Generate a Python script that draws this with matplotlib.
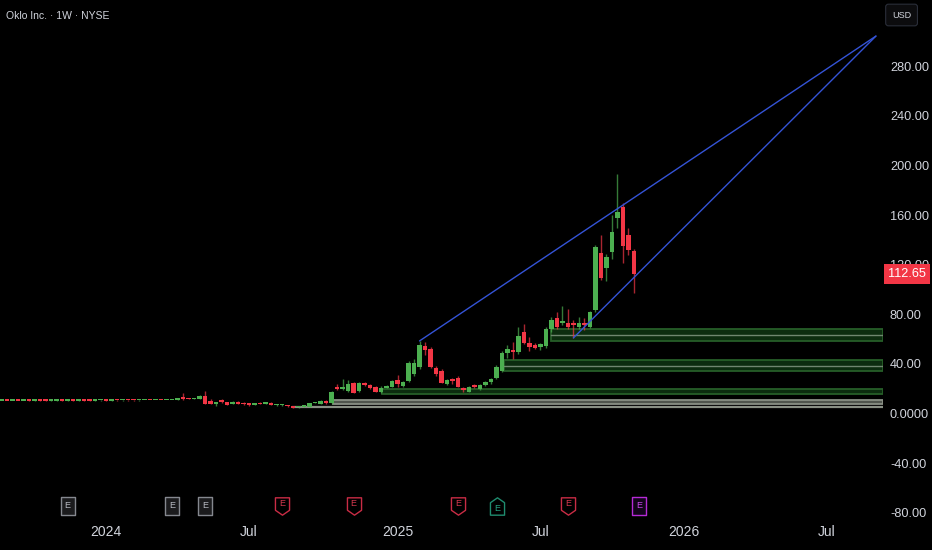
import matplotlib
matplotlib.use('Agg')
import matplotlib.pyplot as plt
import matplotlib.dates as mdates
from matplotlib.path import Path
from matplotlib.markers import MarkerStyle
from matplotlib.patches import Rectangle
import pandas as pd

plt.rcParams['font.family'] = ['Liberation Sans Narrow', 'Liberation Sans', 'DejaVu Sans']

# weekly candles, first week 2023-08-21 (AltC before the merger) up to 2025-11-03
first_week = '2023-08-21'
opens = [10.30, 10.36, 10.33, 10.38, 10.35, 10.40, 10.37, 10.42, 10.39, 10.35, 10.41, 10.44,
         10.40, 10.46, 10.43, 10.48, 10.45, 10.42, 10.47, 10.50, 10.46, 10.52, 10.49, 10.54,
         10.51, 10.48, 10.55, 10.58, 10.54, 10.60, 10.57, 10.62,
         10.8, 13.0, 12.4, 11.6, 11.8, 14.4, 9.8, 7.8, 10.6, 9.3, 7.8, 9.5,
         8.7, 8.2, 6.9, 8.7, 7.6, 8.7, 6.7, 6.7, 6.6, 6.0, 4.9, 5.2,
         5.5, 8.4, 7.7, 10.3, 8.2, 21.0, 19.6, 18.4, 24.6, 18.4, 24.8, 23.0,
         21.6, 17.0, 20.8, 21.6, 27.0, 22.2, 26.5, 31.6, 37.8, 54.4, 52.0, 36.4,
         34.5, 23.8, 27.5, 28.3, 20.8, 17.6, 23.0, 20.0, 23.0, 25.0, 29.0, 34.5,
         48.5, 51.0, 49.8, 66.0, 57.0, 55.0, 53.3, 54.4, 68.0, 76.8, 72.7, 73.0,
         73.0, 70.0, 73.0, 70.0, 83.5, 129.6, 117.0, 130.5, 157.4, 166.8, 144.0, 131.2]
highs = [10.42, 10.44, 10.43, 10.46, 10.45, 10.48, 10.47, 10.50, 10.48, 10.47, 10.51, 10.53,
         10.50, 10.55, 10.52, 10.57, 10.54, 10.52, 10.57, 10.59, 10.56, 10.61, 10.59, 10.63,
         10.60, 10.62, 10.66, 10.67, 10.68, 10.69, 10.71, 10.95,
         12.6, 16.3, 12.8, 12.6, 14.8, 18.0, 11.6, 9.4, 12.0, 9.6, 10.2, 9.8,
         9.0, 8.5, 8.5, 9.0, 9.6, 9.0, 7.6, 7.5, 6.9, 6.4, 5.6, 6.8,
         8.4, 9.4, 10.6, 10.9, 18.0, 23.5, 27.6, 27.0, 25.2, 25.5, 25.6, 24.0,
         22.5, 21.8, 22.8, 27.0, 31.0, 25.8, 42.5, 44.0, 58.5, 58.0, 53.5, 38.5,
         35.5, 27.5, 29.0, 30.5, 21.5, 22.2, 23.5, 23.8, 26.0, 28.5, 39.5, 50.0,
         55.0, 57.5, 70.0, 72.0, 62.0, 57.0, 57.0, 69.5, 78.0, 81.5, 87.0, 84.0,
         75.0, 78.0, 77.0, 82.5, 136.0, 144.0, 129.0, 160.0, 193.0, 170.0, 150.0, 133.0]
lows = [10.24, 10.26, 10.27, 10.29, 10.28, 10.31, 10.30, 10.33, 10.29, 10.28, 10.34, 10.35,
        10.34, 10.37, 10.36, 10.39, 10.35, 10.36, 10.40, 10.40, 10.41, 10.43, 10.44, 10.45,
        10.42, 10.44, 10.49, 10.48, 10.51, 10.52, 10.54, 10.58,
        10.7, 11.2, 11.3, 11.4, 11.5, 7.5, 7.4, 6.2, 8.8, 6.8, 7.5, 7.5,
        7.2, 6.4, 6.6, 7.5, 7.4, 6.7, 6.4, 6.4, 5.6, 4.6, 4.7, 5.0,
        5.3, 8.1, 7.5, 8.0, 8.0, 19.0, 19.0, 17.5, 16.5, 17.5, 22.2, 20.0,
        17.3, 16.5, 20.3, 21.0, 21.6, 21.2, 25.0, 30.0, 35.5, 47.0, 37.0, 30.5,
        24.2, 22.8, 24.0, 21.0, 17.4, 17.0, 20.8, 19.0, 22.0, 24.0, 28.0, 33.5,
        44.5, 44.0, 48.0, 56.0, 50.0, 52.0, 51.0, 53.0, 66.0, 68.0, 71.0, 68.0,
        61.0, 68.0, 67.0, 69.0, 82.0, 107.6, 107.0, 125.0, 150.0, 121.0, 128.0, 97.0]
closes = [10.36, 10.33, 10.38, 10.35, 10.40, 10.37, 10.42, 10.39, 10.35, 10.41, 10.44, 10.40,
          10.46, 10.43, 10.48, 10.45, 10.42, 10.47, 10.50, 10.46, 10.52, 10.49, 10.54, 10.51,
          10.48, 10.55, 10.58, 10.54, 10.60, 10.57, 10.62, 10.80,
          12.2, 11.5, 11.5, 12.4, 14.4, 7.8, 7.8, 9.2, 9.0, 7.0, 9.0, 7.8,
          7.4, 6.6, 8.2, 7.7, 9.2, 6.9, 7.3, 7.2, 5.8, 4.8, 5.3, 6.6,
          8.2, 9.0, 10.3, 8.2, 17.6, 19.6, 21.0, 23.7, 16.9, 24.8, 22.7, 20.6,
          17.6, 20.8, 22.2, 26.5, 23.8, 25.6, 41.0, 41.0, 55.2, 51.0, 37.8, 31.8,
          24.8, 26.8, 26.0, 21.6, 19.0, 21.6, 21.2, 23.0, 25.6, 27.6, 37.7, 48.5,
          51.8, 49.8, 62.5, 56.6, 54.0, 53.0, 56.0, 68.0, 75.0, 70.0, 74.6, 70.0,
          71.5, 72.7, 71.0, 81.6, 134.0, 109.0, 126.5, 146.6, 162.7, 135.0, 131.8, 112.65]

# support zones (green) and the old range (grey)
zone_start = ['2025-07-21', '2025-05-21', '2024-12-17', '2024-10-16']
zone_low = [58.3, 33.9, 16.0, 7.7]
zone_high = [68.2, 43.3, 19.6, 10.9]
zone_mid = [63.3, 38.5, None, None]
zone_kind = ['green', 'green', 'green', 'grey']
floor_start = '2024-08-26'
floor_level = 5.0

# rising wedge lines
trend_from = [('2025-02-03', 58.5), ('2025-08-18', 61.0)]
trend_to = ('2026-09-07', 304.4)

# earnings flags
earn_dates = ['2023-11-13', '2024-03-25', '2024-05-06', '2024-08-12', '2024-11-11',
              '2025-03-24', '2025-05-13', '2025-08-11', '2025-11-10']
earn_kind = ['past', 'past', 'past', 'miss', 'miss', 'miss', 'beat', 'miss', 'next']

yticks = [-80, -40, 0, 40, 80, 120, 160, 200, 240, 280]
xtick_dates = ['2024-01-01', '2024-07-01', '2025-01-06', '2025-07-07', '2026-01-05', '2026-07-06']
xtick_labels = ['2024', 'Jul', '2025', 'Jul', '2026', 'Jul']
last_price = closes[-1]

UP = '#4caf50'
DOWN = '#f23645'
TXT = '#d1d4dc'

weeks = pd.date_range(first_week, periods=len(opens), freq='7D')
xs = mdates.date2num(weeks)

fig = plt.figure(figsize=(9.32, 5.5), dpi=100, facecolor='black')
ax = fig.add_axes([0, 33 / 550, 883 / 932, 517 / 550])
ax.set_facecolor('black')

x_left = mdates.date2num(pd.Timestamp('2023-08-19'))
x_right = mdates.date2num(pd.Timestamp('2026-09-16'))

# zones
for s, lo, hi, mid, kind in zip(zone_start, zone_low, zone_high, zone_mid, zone_kind):
    x0 = mdates.date2num(pd.Timestamp(s))
    if kind == 'green':
        fc, ec = '#0c2c0f', '#265e28'
    else:
        fc, ec = '#50554d', '#8a9085'
    ax.add_patch(Rectangle((x0, lo), x_right - x0, hi - lo, facecolor=fc, edgecolor=ec,
                           linewidth=1.3, zorder=1))
    if mid is not None:
        ax.plot([x0, x_right], [mid, mid], color='#6f866f', lw=1.0, zorder=1.1)
xf = mdates.date2num(pd.Timestamp(floor_start))
ax.plot([xf, x_right], [floor_level, floor_level], color='#8a9085', lw=1.6, zorder=1)

# candles
for x, o, h, l, c in zip(xs, opens, highs, lows, closes):
    col = UP if c >= o else DOWN
    ax.vlines(x, l, h, color=col, lw=1.0, alpha=0.7, zorder=2)
    ax.bar(x, max(abs(c - o), 1.0), bottom=min(o, c), width=5.6, color=col,
           linewidth=0, zorder=3)

# trend lines
xe = mdates.date2num(pd.Timestamp(trend_to[0]))
for d, p in trend_from:
    xsd = mdates.date2num(pd.Timestamp(d))
    ax.plot([xsd, xe], [p, trend_to[1]], color='#3453d6', lw=1.0, zorder=4,
            solid_capstyle='round')

# earnings markers
rect = Path([(-6.5, -8), (6.5, -8), (6.5, 8), (-6.5, 8), (-6.5, -8)],
            [Path.MOVETO, Path.LINETO, Path.LINETO, Path.LINETO, Path.CLOSEPOLY])
down = Path([(-6.5, 8), (6.5, 8), (6.5, -3.5), (0, -8), (-6.5, -3.5), (-6.5, 8)],
            [Path.MOVETO] + [Path.LINETO] * 4 + [Path.CLOSEPOLY])
up = Path([(-6.5, -8), (6.5, -8), (6.5, 3.5), (0, 8), (-6.5, 3.5), (-6.5, -8)],
          [Path.MOVETO] + [Path.LINETO] * 4 + [Path.CLOSEPOLY])
styles = {
    'past': (rect, '#85888f', '#1b1b1d', '#b7bac2'),
    'miss': (down, '#c92c45', '#000000', '#d6384f'),
    'beat': (up, '#1f8c6f', '#000000', '#26a383'),
    'next': (rect, '#b52ad6', '#12041a', '#c847ea'),
}
tr = ax.get_xaxis_transform()
for d, k in zip(earn_dates, earn_kind):
    shape, ec, fc, tc = styles[k]
    xd = mdates.date2num(pd.Timestamp(d))
    ax.plot([xd], [0.0213], marker=MarkerStyle(shape), ms=12.5, mec=ec, mfc=fc, mew=1.0,
            transform=tr, clip_on=False, zorder=5)
    ax.text(xd, 0.0213 + (0.004 if k == 'miss' else (-0.004 if k == 'beat' else 0)), 'E',
            transform=tr, ha='center', va='center', fontsize=6.5, color=tc, zorder=6)

ax.set_xlim(x_left, x_right)
ax.set_ylim(-83.5, 333.5)

ax.set_xticks(mdates.date2num(pd.to_datetime(xtick_dates)))
ax.set_xticklabels(xtick_labels)
ax.yaxis.tick_right()
ax.set_yticks(yticks)
ax.set_yticklabels(['0.0000' if v == 0 else f'{v:.2f}' for v in yticks])
ax.tick_params(axis='x', length=0, pad=6, colors=TXT, labelsize=10)
ax.tick_params(axis='y', length=0, pad=5, colors=TXT, labelsize=9.2)
for sp in ax.spines.values():
    sp.set_visible(False)

# last price tag
ax.annotate(f'{last_price:.2f}', xy=(1, last_price), xycoords=('axes fraction', 'data'),
            xytext=(5, 0), textcoords='offset pixels', ha='left', va='center',
            fontsize=9.2, color='white', annotation_clip=False, zorder=10,
            bbox=dict(boxstyle='square,pad=0.3', fc=DOWN, ec='none'))

fig.text(6 / 932, 1 - 16 / 550, 'Oklo Inc. · 1W · NYSE', color=TXT, fontsize=7.5,
         ha='left', va='center')
fig.text(892 / 932, 1 - 15 / 550, 'USD', color=TXT, fontsize=6.5, ha='left', va='center',
         bbox=dict(boxstyle='round,pad=0.7,rounding_size=0.3', fc='#0c0c0e', ec='#2a2e39',
                   lw=0.8))

fig.savefig('out.png', dpi=100, facecolor='black')
